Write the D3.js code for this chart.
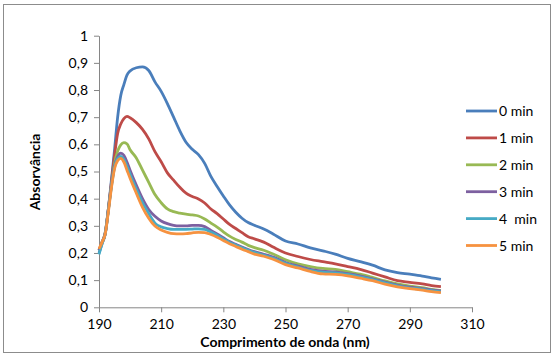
<!DOCTYPE html>
<html>
<head>
<meta charset="utf-8">
<script src="https://cdn.jsdelivr.net/npm/d3@7"></script>
<style>
  body { margin: 0; background: #fff; }
  text { font-family: Lato, "Open Sans", sans-serif; fill: #000; }
</style>
</head>
<body>
<div id="chart"></div>
<script>
// wavelengths (nm) shared by every series
const wavelengths = [190,191,192,193,194,195,196,197,198,199,200,202,204,206,208,210,212,214,216,218,220,222,224,226,228,230,232,234,236,238,240,243,246,250,254,258,262,266,270,274,278,282,286,290,294,297,300];

const abs0 = [0.20,0.235,0.27,0.36,0.47,0.58,0.70,0.78,0.82,0.855,0.87,0.882,0.885,0.872,0.83,0.795,0.75,0.70,0.65,0.608,0.582,0.562,0.53,0.482,0.445,0.41,0.377,0.35,0.328,0.312,0.302,0.288,0.27,0.244,0.233,0.219,0.208,0.196,0.18,0.168,0.155,0.138,0.128,0.122,0.115,0.108,0.103];
const abs1 = [0.21,0.24,0.27,0.36,0.46,0.56,0.64,0.675,0.695,0.703,0.698,0.68,0.655,0.62,0.573,0.536,0.495,0.468,0.442,0.42,0.408,0.399,0.384,0.362,0.345,0.325,0.305,0.29,0.275,0.26,0.252,0.24,0.222,0.20,0.187,0.176,0.168,0.16,0.15,0.14,0.126,0.112,0.098,0.092,0.086,0.08,0.076];
const abs2 = [0.21,0.24,0.275,0.36,0.45,0.53,0.575,0.598,0.606,0.602,0.58,0.55,0.505,0.46,0.415,0.385,0.362,0.352,0.347,0.343,0.34,0.336,0.325,0.31,0.295,0.278,0.262,0.25,0.24,0.228,0.22,0.21,0.196,0.175,0.16,0.15,0.143,0.14,0.131,0.122,0.11,0.097,0.086,0.078,0.072,0.066,0.061];
const abs3 = [0.21,0.24,0.275,0.36,0.45,0.52,0.555,0.568,0.56,0.535,0.505,0.45,0.40,0.36,0.335,0.318,0.308,0.302,0.30,0.30,0.302,0.302,0.297,0.283,0.27,0.256,0.242,0.232,0.222,0.213,0.205,0.195,0.185,0.165,0.152,0.14,0.133,0.13,0.124,0.116,0.105,0.093,0.082,0.074,0.069,0.064,0.06];
const abs4 = [0.195,0.235,0.27,0.355,0.445,0.515,0.548,0.556,0.545,0.52,0.49,0.435,0.385,0.345,0.31,0.296,0.29,0.287,0.287,0.287,0.288,0.289,0.287,0.277,0.265,0.252,0.239,0.229,0.219,0.21,0.202,0.192,0.181,0.162,0.148,0.136,0.129,0.127,0.121,0.112,0.102,0.09,0.079,0.071,0.066,0.061,0.057];
const abs5 = [0.215,0.24,0.27,0.35,0.44,0.51,0.54,0.548,0.535,0.505,0.475,0.42,0.368,0.328,0.299,0.285,0.276,0.271,0.27,0.271,0.274,0.276,0.275,0.268,0.258,0.246,0.234,0.224,0.214,0.205,0.196,0.188,0.177,0.157,0.145,0.132,0.123,0.121,0.116,0.107,0.098,0.085,0.075,0.069,0.063,0.058,0.054];

const seriesNames = ["0 min", "1 min", "2 min", "3 min", "4  min", "5 min"];
const seriesColors = ["#4a7ebb", "#be4b48", "#98b954", "#7d60a0", "#46aac5", "#f69240"];

const xTicks = [190, 210, 230, 250, 270, 290, 310];
const yTicks = [0, 0.1, 0.2, 0.3, 0.4, 0.5, 0.6, 0.7, 0.8, 0.9, 1];
const yTickLabels = ["0", "0,1", "0,2", "0,3", "0,4", "0,5", "0,6", "0,7", "0,8", "0,9", "1"];

class SpectraChart {
    constructor(parentElement) {
        this.parentElement = parentElement;
        this.series = [abs0, abs1, abs2, abs3, abs4, abs5].map((vals, i) => ({
            name: seriesNames[i],
            color: seriesColors[i],
            values: wavelengths.map((w, j) => ({ w: w, a: vals[j] }))
        }));
    }

    initVis() {
        let vis = this;
        vis.width = 557;
        vis.height = 362;

        vis.svg = d3.select("#" + vis.parentElement).append("svg")
            .attr("width", vis.width)
            .attr("height", vis.height);

        // chart frame
        vis.svg.append("rect")
            .attr("x", 3.5).attr("y", 4.5)
            .attr("width", 547).attr("height", 348)
            .attr("fill", "#fff")
            .attr("stroke", "#8c8c8c")
            .attr("stroke-width", 1);

        vis.xScale = d3.scaleLinear().domain([190, 310]).range([99, 472]);
        vis.yScale = d3.scaleLinear().domain([0, 1]).range([307.3, 35.7]);

        vis.xAxis = d3.axisBottom(vis.xScale)
            .tickValues(xTicks)
            .tickSize(5)
            .tickSizeOuter(0)
            .tickPadding(7)
            .tickFormat(d3.format("d"));

        vis.yAxis = d3.axisLeft(vis.yScale)
            .tickValues(yTicks)
            .tickSize(5)
            .tickSizeOuter(0)
            .tickPadding(6)
            .tickFormat((d, i) => yTickLabels[i]);

        vis.svg.append("g")
            .attr("class", "x-axis")
            .attr("transform", `translate(0, ${vis.yScale(0)})`)
            .call(vis.xAxis);

        vis.svg.append("g")
            .attr("class", "y-axis")
            .attr("transform", `translate(${vis.xScale(190)}, 0)`)
            .call(vis.yAxis);

        vis.svg.selectAll(".x-axis path, .x-axis line, .y-axis path, .y-axis line")
            .attr("stroke", "#868686");
        vis.svg.selectAll(".x-axis text, .y-axis text")
            .attr("font-size", 14)
            .attr("fill", "#000")
            .style("font-family", "Lato, sans-serif");

        // axis titles
        vis.svg.append("text")
            .attr("x", 285)
            .attr("y", 347)
            .attr("text-anchor", "middle")
            .attr("font-size", 14)
            .attr("font-weight", "bold")
            .text("Comprimento de onda (nm)");

        vis.svg.append("text")
            .attr("transform", "translate(40, 172) rotate(-90)")
            .attr("text-anchor", "middle")
            .attr("font-size", 14)
            .attr("font-weight", "bold")
            .text("Absorvância");

        vis.updateVis();
    }

    updateVis() {
        const vis = this;

        const line = d3.line()
            .x(d => vis.xScale(d.w))
            .y(d => vis.yScale(d.a))
            .curve(d3.curveMonotoneX);

        vis.svg.selectAll(".spectrum")
            .data(vis.series)
            .enter().append("path")
            .attr("class", "spectrum")
            .attr("fill", "none")
            .attr("stroke", d => d.color)
            .attr("stroke-width", 2.8)
            .attr("stroke-linejoin", "round")
            .attr("d", d => line(d.values));

        // legend
        const legend = vis.svg.selectAll(".legend-item")
            .data(vis.series)
            .enter().append("g")
            .attr("class", "legend-item")
            .attr("transform", (d, i) => `translate(466, ${111 + i * 26.9})`);

        legend.append("line")
            .attr("x1", 0).attr("x2", 31)
            .attr("stroke", d => d.color)
            .attr("stroke-width", 2.8);

        legend.append("text")
            .attr("x", 33)
            .attr("y", 5)
            .attr("font-size", 14)
            .style("white-space", "pre")
            .text(d => d.name);
    }
}

const chart = new SpectraChart("chart");
chart.initVis();
</script>
</body>
</html>
